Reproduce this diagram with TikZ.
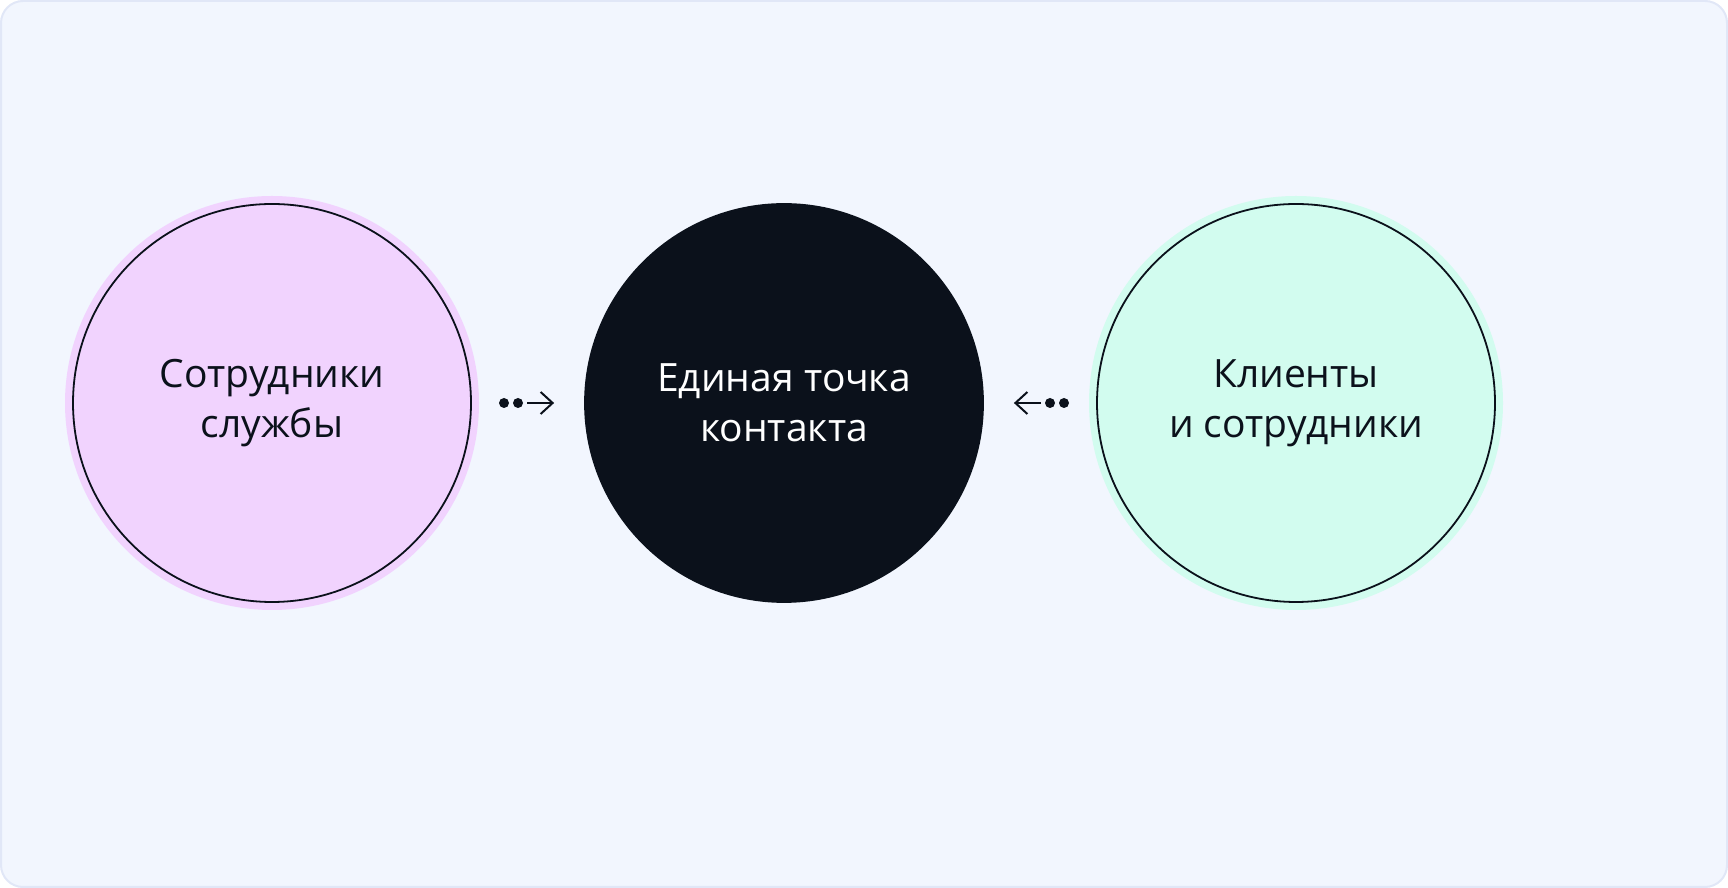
\documentclass[tikz,border=0pt]{standalone}
\usepackage{fontspec}
\setmainfont{Open Sans}
\usetikzlibrary{arrows.meta}
\definecolor{bgfill}{HTML}{F2F6FE}
\definecolor{bgline}{HTML}{E1E7F7}
\definecolor{pinkfill}{HTML}{F1D3FE}
\definecolor{mintfill}{HTML}{D2FCEF}
\definecolor{inkdark}{HTML}{0B111B}
\begin{document}
\begin{tikzpicture}[x=0.5pt, y=0.5pt,
    halo/.style={circle, minimum size=207pt, inner sep=0pt},
    disc/.style={circle, draw=inkdark, line width=0.9pt, minimum size=199pt, inner sep=0pt,
        font=\fontsize{19.5}{25}\selectfont, text=inkdark, align=center},
    dot/.style={circle, fill=inkdark, minimum size=5pt, inner sep=0pt, outer sep=2pt},
    link/.style={-{Straight Barb[length=6pt, width=11pt, line width=1pt]}, line width=1pt, draw=inkdark}]
    \useasboundingbox (0,0) rectangle (1728,888);
    \draw[fill=bgfill, draw=bgline, line width=1pt, rounded corners=11pt] (1,1) rectangle (1727,887);
    % circles
    \node[halo, fill=pinkfill] (lefthalo) at (272,485) {};
    \node[disc, fill=pinkfill] (staff) at (272,485) {Сотрудники\\службы};
    \node[disc, fill=inkdark, text=white] (contact) at (784,485) {Единая точка\\контакта};
    \node[halo, fill=mintfill] (righthalo) at (1296,485) {};
    \node[disc, fill=mintfill] (clients) at (1296,485) {Клиенты\\и сотрудники};
    % arrows
    \node[dot] (la) at (504,485) {};
    \node[dot] (lb) at (518,485) {};
    \node[dot] (ra) at (1064,485) {};
    \node[dot] (rb) at (1050,485) {};
    \draw[link, shorten >=15pt] (lb) -- (contact.west);
    \draw[link, shorten >=15pt] (rb) -- (contact.east);
\end{tikzpicture}
\end{document}
